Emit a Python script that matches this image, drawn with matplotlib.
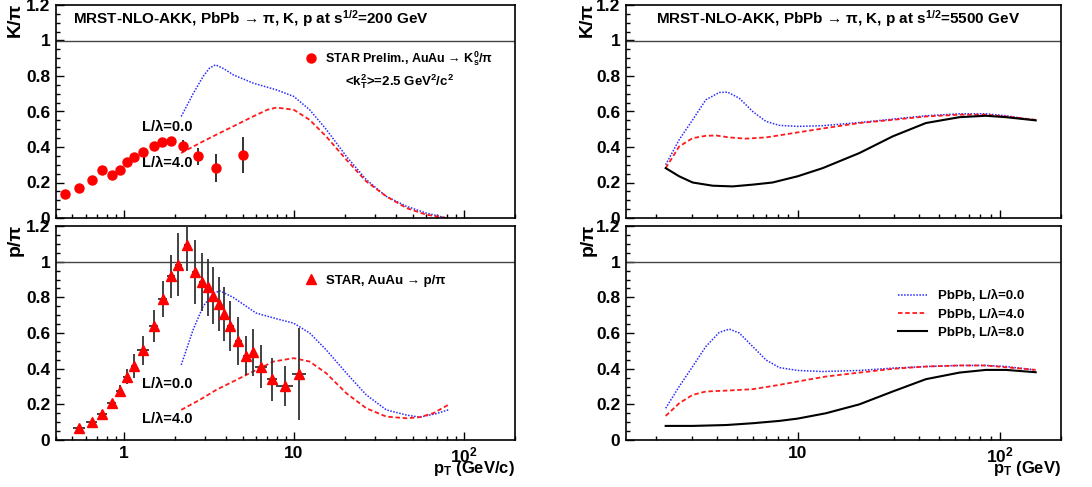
import matplotlib
matplotlib.use("Agg")
import matplotlib.pyplot as plt
from matplotlib.lines import Line2D
from matplotlib.ticker import FixedLocator, MultipleLocator, FuncFormatter

plt.rcParams['font.family'] = ['Liberation Sans', 'DejaVu Sans']
plt.rcParams['font.weight'] = 'bold'
plt.rcParams['mathtext.fontset'] = 'custom'
plt.rcParams['mathtext.rm'] = 'Liberation Sans:bold'
plt.rcParams['mathtext.it'] = 'Liberation Sans:bold'
plt.rcParams['mathtext.bf'] = 'Liberation Sans:bold'

# ---- STAR data (RHIC, 200 GeV) ----
k_star_pt = [0.45, 0.546, 0.651, 0.746, 0.85, 0.947, 1.04, 1.15, 1.30, 1.50, 1.69, 1.89, 2.23, 2.75, 3.49, 5.01]
k_star_ratio = [0.137, 0.169, 0.216, 0.272, 0.240, 0.272, 0.315, 0.341, 0.370, 0.407, 0.426, 0.435, 0.407, 0.347, 0.283, 0.355]
k_star_err = [0, 0, 0, 0, 0, 0, 0, 0, 0, 0, 0, 0, 0.033, 0.05, 0.08, 0.10]

p_star_pt = [0.546, 0.648, 0.75, 0.85, 0.947, 1.046, 1.15, 1.30, 1.50, 1.70, 1.89, 2.10, 2.35,
             2.62, 2.87, 3.12, 3.37, 3.62, 3.87, 4.24, 4.73, 5.25, 5.77, 6.45, 7.5, 8.85, 10.8]
p_star_ratio = [0.066, 0.099, 0.146, 0.206, 0.277, 0.356, 0.416, 0.502, 0.637, 0.792, 0.918, 0.983, 1.095,
                0.94, 0.886, 0.856, 0.809, 0.764, 0.706, 0.64, 0.556, 0.472, 0.491, 0.412, 0.341, 0.303, 0.37]
p_star_err = [0.005, 0.01, 0.015, 0.02, 0.03, 0.04, 0.067, 0.083, 0.09, 0.10, 0.12, 0.175, 0.15,
              0.18, 0.16, 0.16, 0.16, 0.15, 0.15, 0.14, 0.135, 0.11, 0.13, 0.12, 0.12, 0.11, 0.26]
p_star_xerr = [0.045, 0.05, 0.05, 0.05, 0.05, 0.05, 0.05, 0.1, 0.1, 0.1, 0.1, 0.1, 0.1,
               0.1, 0.1, 0.1, 0.1, 0.1, 0.1, 0.2, 0.2, 0.2, 0.2, 0.5, 0.5, 1.0, 1.0]

# ---- theory, 200 GeV ----
rhic_k_pt0 = [2.18, 2.56, 2.93, 3.2, 3.47, 3.9, 4.4, 5.77, 7.9, 10, 12.4, 15.5, 20.4, 26.7, 35, 46, 60, 79]
rhic_k_l0 = [0.572, 0.70, 0.797, 0.845, 0.863, 0.84, 0.807, 0.76, 0.722, 0.685, 0.61, 0.50, 0.347, 0.216, 0.122, 0.066, 0.028, 0.0]
rhic_k_pt4 = [2.18, 2.8, 3.5, 4.4, 5.77, 7.0, 7.9, 10, 12.4, 15.5, 20.4, 26.7, 35, 46, 60, 79]
rhic_k_l4 = [0.366, 0.422, 0.469, 0.516, 0.572, 0.61, 0.622, 0.61, 0.553, 0.46, 0.328, 0.206, 0.122, 0.056, 0.019, 0.0]

rhic_p_pt0 = [2.18, 2.56, 2.93, 3.35, 3.67, 4.4, 6.0, 7.9, 10, 12.4, 15.5, 20.4, 26.7, 35, 46, 55, 69, 81]
rhic_p_l0 = [0.421, 0.618, 0.749, 0.82, 0.837, 0.80, 0.712, 0.68, 0.655, 0.60, 0.506, 0.375, 0.253, 0.169, 0.14, 0.128, 0.148, 0.169]
rhic_p_pt4 = [2.18, 2.8, 3.5, 4.4, 5.77, 7.6, 10, 12.4, 15.5, 20.4, 26.7, 35, 46, 55, 66, 81]
rhic_p_l4 = [0.169, 0.225, 0.281, 0.328, 0.384, 0.44, 0.459, 0.44, 0.375, 0.262, 0.178, 0.131, 0.122, 0.128, 0.15, 0.197]

# ---- theory, 5500 GeV ----
lhc_k_pt0 = [2.23, 2.6, 3.03, 3.52, 4.1, 4.51, 5.15, 6.0, 6.98, 8.12, 10, 13.3, 20.2, 29.5, 43, 63, 85, 107, 134, 150]
lhc_k_l0 = [0.30, 0.441, 0.553, 0.666, 0.707, 0.709, 0.675, 0.60, 0.544, 0.522, 0.516, 0.52, 0.538, 0.557, 0.576, 0.587, 0.587, 0.576, 0.559, 0.553]
lhc_k_pt4 = [2.23, 2.6, 3.03, 3.52, 3.95, 4.6, 5.55, 6.98, 10, 13.8, 20.2, 29.5, 43, 63, 85, 107, 150]
lhc_k_l4 = [0.281, 0.403, 0.45, 0.463, 0.465, 0.454, 0.447, 0.454, 0.482, 0.507, 0.535, 0.553, 0.572, 0.582, 0.582, 0.572, 0.553]
lhc_k_pt8 = [2.23, 2.6, 3.03, 3.8, 4.77, 6.0, 7.52, 10, 13.3, 20.2, 29.5, 43, 63, 85, 107, 150]
lhc_k_l8 = [0.281, 0.235, 0.20, 0.182, 0.178, 0.188, 0.20, 0.235, 0.281, 0.366, 0.46, 0.535, 0.568, 0.576, 0.568, 0.55]

lhc_p_pt0 = [2.23, 2.6, 3.03, 3.52, 4.1, 4.6, 5.15, 6.0, 6.98, 8.12, 10, 13.3, 20.2, 29.5, 43, 63, 85, 107, 150]
lhc_p_l0 = [0.178, 0.30, 0.412, 0.524, 0.603, 0.622, 0.60, 0.524, 0.449, 0.406, 0.39, 0.384, 0.39, 0.403, 0.412, 0.418, 0.418, 0.412, 0.393]
lhc_p_pt4 = [2.23, 2.6, 3.03, 3.52, 4.45, 6.0, 8.12, 10, 13.8, 20.2, 29.5, 43, 63, 85, 107, 150]
lhc_p_l4 = [0.135, 0.206, 0.253, 0.272, 0.277, 0.285, 0.309, 0.328, 0.356, 0.378, 0.399, 0.412, 0.418, 0.418, 0.408, 0.393]
lhc_p_pt8 = [2.23, 3.03, 4.45, 6.0, 8.12, 10, 13.8, 20.2, 29.5, 43, 63, 85, 107, 150]
lhc_p_l8 = [0.079, 0.079, 0.084, 0.094, 0.107, 0.12, 0.15, 0.20, 0.272, 0.341, 0.378, 0.393, 0.393, 0.38]

W, H = 1092, 487
fig = plt.figure(figsize=(W / 100, H / 100), dpi=100)


def px_axes(x0, y0, x1, y1):
    return fig.add_axes([x0 / W, 1 - y1 / H, (x1 - x0) / W, (y1 - y0) / H])


ax_k1 = px_axes(56, 5, 515, 218)
ax_p1 = px_axes(56, 226, 515, 440)
ax_k2 = px_axes(626, 5, 1061, 218)
ax_p2 = px_axes(626, 226, 1061, 440)

blue = dict(color='#2a2aff', linestyle=(0, (1, 1)), linewidth=1.1)
red = dict(color='#ff1a1a', linestyle=(0, (2.5, 1.5)), linewidth=1.3)
black = dict(color='black', linestyle='-', linewidth=1.5)


def yfmt(v, pos):
    return '%g' % round(v, 2)


def xfmt(v, pos):
    return {1: '1', 10: '10', 100: '$10^2$'}.get(int(round(v)), '')


for ax, ylab in [(ax_k1, 'K/π'), (ax_p1, 'p/π'), (ax_k2, 'K/π'), (ax_p2, 'p/π')]:
    ax.set_xscale('log')
    ax.set_ylim(0, 1.2)
    ax.axhline(1.0, color='#444444', linewidth=1.0)
    ax.yaxis.set_major_locator(MultipleLocator(0.2))
    ax.yaxis.set_minor_locator(MultipleLocator(0.05))
    ax.yaxis.set_major_formatter(FuncFormatter(yfmt))
    ax.xaxis.set_major_locator(FixedLocator([1, 10, 100]))
    ax.xaxis.set_minor_locator(FixedLocator([m * d for d in (0.1, 1, 10, 100) for m in range(2, 10)]))
    ax.xaxis.set_major_formatter(FuncFormatter(xfmt))
    ax.tick_params(which='both', direction='in', top=False, right=False, labelsize=12.5, pad=4)
    ax.tick_params(which='major', length=6, width=1)
    ax.tick_params(which='minor', length=3, width=1)
    for s in ax.spines.values():
        s.set_linewidth(1.2)
    ax.text(-0.088, 1.01, ylab, transform=ax.transAxes, rotation=90, ha='center', va='top', fontsize=14)

for ax in (ax_k1, ax_k2):
    ax.tick_params(axis='x', labelbottom=False)

ax_k1.set_xlim(0.4, 200)
ax_p1.set_xlim(0.4, 200)
ax_k2.set_xlim(1.42, 200)
ax_p2.set_xlim(1.42, 200)

# ---- top left: K/pi at 200 GeV ----
ax_k1.plot(rhic_k_pt0, rhic_k_l0, **blue)
ax_k1.plot(rhic_k_pt4, rhic_k_l4, **red)
ax_k1.errorbar(k_star_pt, k_star_ratio, yerr=k_star_err, fmt='o', color='red', markersize=6.5,
               ecolor='#222222', elinewidth=1.3, capsize=0, zorder=5)
ax_k1.text(0.038, 0.935, r'MRST-NLO-AKK, PbPb → π, K, p at s$^{1/2}$=200 GeV',
           transform=ax_k1.transAxes, fontsize=11, va='center', ha='left')
ax_k1.text(0.63, 0.642, r'<k$_T^2$>=2.5 GeV$^2$/c$^2$', transform=ax_k1.transAxes, fontsize=9.5, va='center')
ax_k1.text(1.29, 0.514, 'L/λ=0.0', fontsize=10.5, va='center')
ax_k1.text(1.29, 0.31, 'L/λ=4.0', fontsize=10.5, va='center')
k_handle = Line2D([], [], marker='o', color='red', linestyle='none', markersize=6.5)
ax_k1.legend([k_handle], [r'STAR Prelim., AuAu → K$^0_s$/π'], loc='center left',
             bbox_to_anchor=(0.542, 0.747), frameon=False, fontsize=9, handlelength=1.0,
             handletextpad=0.6, borderpad=0, borderaxespad=0)

# ---- bottom left: p/pi at 200 GeV ----
ax_p1.plot(rhic_p_pt0, rhic_p_l0, **blue)
ax_p1.plot(rhic_p_pt4, rhic_p_l4, **red)
ax_p1.errorbar(p_star_pt, p_star_ratio, yerr=p_star_err, xerr=p_star_xerr, fmt='^', color='red', markersize=6.5,
               ecolor='#333333', elinewidth=1.3, capsize=0, zorder=5)
ax_p1.text(1.29, 0.315, 'L/λ=0.0', fontsize=10.5, va='center')
ax_p1.text(1.29, 0.118, 'L/λ=4.0', fontsize=10.5, va='center')
p_handle = Line2D([], [], marker='^', color='red', linestyle='none', markersize=6.5)
ax_p1.legend([p_handle], ['STAR, AuAu → p/π'], loc='center left', bbox_to_anchor=(0.542, 0.745),
             frameon=False, fontsize=9.5, handlelength=1.0, handletextpad=0.6, borderpad=0, borderaxespad=0)
ax_p1.text(1.0, -0.135, r'p$_T$ (GeV/c)', transform=ax_p1.transAxes, ha='right', va='center', fontsize=12)

# ---- top right: K/pi at 5500 GeV ----
ax_k2.plot(lhc_k_pt0, lhc_k_l0, **blue)
ax_k2.plot(lhc_k_pt4, lhc_k_l4, **red)
ax_k2.plot(lhc_k_pt8, lhc_k_l8, **black)
ax_k2.text(0.07, 0.935, r'MRST-NLO-AKK, PbPb → π, K, p at s$^{1/2}$=5500 GeV',
           transform=ax_k2.transAxes, fontsize=11, va='center', ha='left')

# ---- bottom right: p/pi at 5500 GeV ----
l0, = ax_p2.plot(lhc_p_pt0, lhc_p_l0, **blue)
l4, = ax_p2.plot(lhc_p_pt4, lhc_p_l4, **red)
l8, = ax_p2.plot(lhc_p_pt8, lhc_p_l8, **black)
ax_p2.legend([l0, l4, l8], ['PbPb, L/λ=0.0', 'PbPb, L/λ=4.0', 'PbPb, L/λ=8.0'],
             loc='upper left', bbox_to_anchor=(0.625, 0.70), frameon=False, fontsize=9.5,
             handlelength=2.2, handletextpad=0.85, labelspacing=0.45, borderpad=0, borderaxespad=0)
ax_p2.text(1.0, -0.135, r'p$_T$ (GeV)', transform=ax_p2.transAxes, ha='right', va='center', fontsize=12)

fig.savefig('out.png', dpi=100)
